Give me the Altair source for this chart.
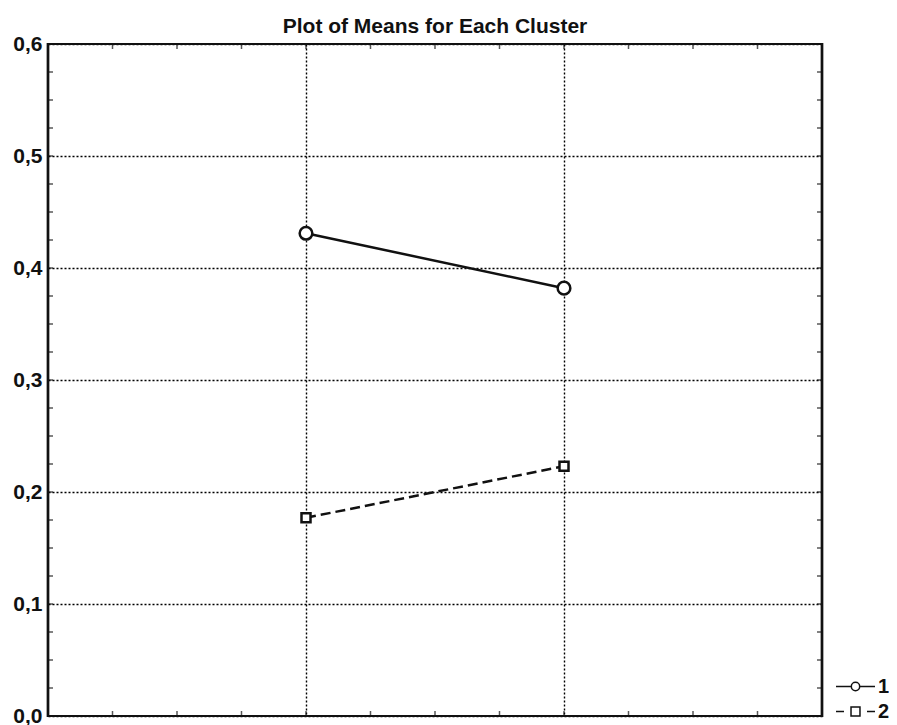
import altair as alt
import pandas as pd

# ---- data ----
clusters = ["1", "2"]
var_pos = [4, 8]                     # positions of the two variables on the 0..12 axis
means_cluster1 = [0.431, 0.382]
means_cluster2 = [0.177, 0.223]
y_tick_values = [0.0, 0.1, 0.2, 0.3, 0.4, 0.5, 0.6]
x_grid_values = [4, 8]
x_minor_ticks = [1, 2, 3, 4, 5, 6, 7, 8, 9, 10, 11]
y_minor_ticks = [0.025, 0.05, 0.075, 0.1, 0.125, 0.15, 0.175, 0.2, 0.225, 0.25,
                 0.275, 0.3, 0.325, 0.35, 0.375, 0.4, 0.425, 0.45, 0.475, 0.5,
                 0.525, 0.55, 0.575]

df = pd.DataFrame({
    "pos": var_pos + var_pos,
    "mean": means_cluster1 + means_cluster2,
    "cluster": [clusters[0]] * 2 + [clusters[1]] * 2,
})
xt = pd.DataFrame({"pos": x_minor_ticks})
yt = pd.DataFrame({"mean": y_minor_ticks})

FONT = "Liberation Sans"
W, H = 774, 672

x_enc = alt.X("pos:Q",
              scale=alt.Scale(domain=[0, 12], nice=False, zero=False),
              axis=alt.Axis(values=x_grid_values, labels=False, ticks=False, domain=False,
                            grid=True, gridColor="black", gridDash=[2, 2], gridWidth=1.4,
                            title=None))
y_enc = alt.Y("mean:Q",
              scale=alt.Scale(domain=[0, 0.6], nice=False),
              axis=alt.Axis(values=y_tick_values,
                            labelExpr="replace(format(datum.value, '.1f'), '.', ',')",
                            ticks=False, domain=False, grid=True, gridColor="black",
                            gridDash=[2, 2], gridWidth=1.4, labelFontSize=21,
                            labelFont=FONT, labelFontWeight="bold", labelColor="#111",
                            labelPadding=6, title=None))

base = alt.Chart(df)

line1 = base.transform_filter(alt.datum.cluster == "1").mark_line(
    color="#111", strokeWidth=2.5).encode(x=x_enc, y=y_enc)
line2 = base.transform_filter(alt.datum.cluster == "2").mark_line(
    color="#111", strokeWidth=2.5, strokeDash=[10, 5]).encode(x=x_enc, y=y_enc)
pts1 = base.transform_filter(alt.datum.cluster == "1").mark_point(
    shape="circle", size=160, filled=True, fill="white", stroke="#111",
    strokeWidth=2.5, opacity=1).encode(x=x_enc, y=y_enc)
pts2 = base.transform_filter(alt.datum.cluster == "2").mark_point(
    shape="square", size=81, filled=True, fill="white", stroke="#111",
    strokeWidth=2.5, opacity=1).encode(x=x_enc, y=y_enc)

path1 = "M-2,0L-0.43,0M0.43,0L2,0M-0.43,0A0.43,0.43,0,1,1,0.43,0A0.43,0.43,0,1,1,-0.43,0Z"
path2 = "M-2,0L-1.18,0M1.18,0L2,0M-0.46,-0.46L0.46,-0.46L0.46,0.46L-0.46,0.46Z"

legend_layer = base.mark_point(
    clip=True, filled=True, fill="white", stroke="#111", strokeWidth=2.2, opacity=1
).encode(
    x=alt.value(-200), y=alt.value(-200),
    shape=alt.Shape("cluster:N",
                    scale=alt.Scale(domain=clusters, range=[path1, path2]),
                    legend=alt.Legend(orient="none", legendX=797, legendY=632,
                                      title=None, symbolSize=380, labelFontSize=20,
                                      labelFont=FONT, labelFontWeight="bold",
                                      labelColor="#111", labelOffset=12, rowPadding=4,
                                      padding=0, symbolOpacity=1)),
)

tick_style = dict(color="#111", thickness=1.5, size=5)
xticks_bottom = alt.Chart(xt).mark_tick(orient="vertical", **tick_style).encode(
    x=x_enc, y=alt.value(H - 2.5))
xticks_top = alt.Chart(xt).mark_tick(orient="vertical", **tick_style).encode(
    x=x_enc, y=alt.value(2.5))
yticks_left = alt.Chart(yt).mark_tick(orient="horizontal", **tick_style).encode(
    y=y_enc, x=alt.value(2.5))
yticks_right = alt.Chart(yt).mark_tick(orient="horizontal", **tick_style).encode(
    y=y_enc, x=alt.value(W - 2.5))

frame = alt.Chart(df).mark_rect(fill=None, filled=False, stroke="#111", strokeWidth=2.2).encode(
    x=alt.value(0), x2=alt.value(W), y=alt.value(0), y2=alt.value(H))

chart = alt.layer(
    xticks_bottom, xticks_top, yticks_left, yticks_right,
    line1, line2, pts1, pts2, legend_layer, frame,
).properties(
    width=W, height=H,
    title=alt.TitleParams("Plot of Means for Each Cluster", font=FONT, fontSize=21,
                          fontWeight="bold", color="#111", anchor="middle", offset=-4,
                          frame="group"),
    autosize=alt.AutoSizeParams(type="none"),
    padding={"left": 40, "top": 36, "right": 67, "bottom": 12},
).configure_view(stroke=None).configure(background="white")

chart.save("out.html", embed_options={"renderer": "svg", "actions": False})
